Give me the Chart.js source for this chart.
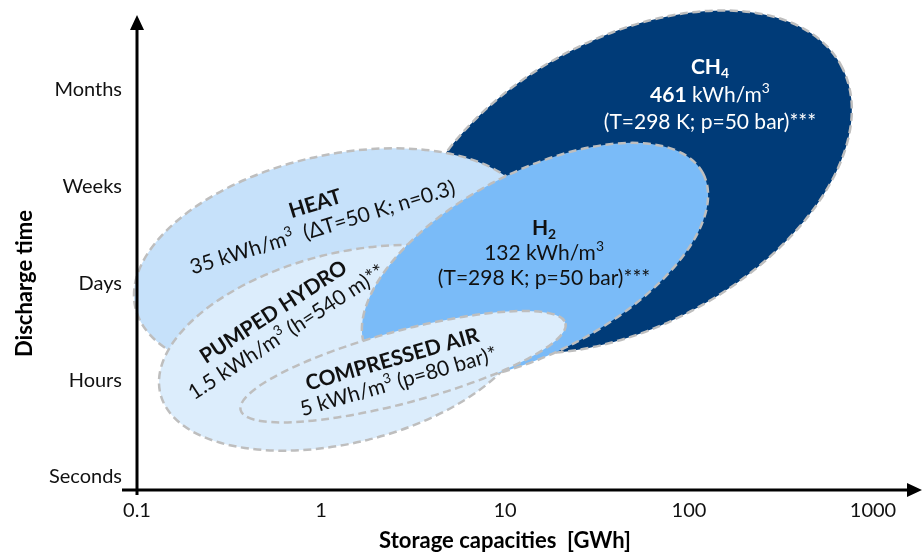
<!DOCTYPE html>
<html>
<head>
<meta charset="utf-8">
<script src="https://cdn.jsdelivr.net/npm/chart.js@4.4.1/dist/chart.umd.min.js"></script>
<style>
  html, body { margin: 0; padding: 0; background: #fff; }
  #wrap { width: 924px; height: 553px; position: relative; }
</style>
</head>
<body>
<div id="wrap"><canvas id="grafico"></canvas></div>
<script>
// eixos
const timeLabels = ['Seconds', 'Hours', 'Days', 'Weeks', 'Months'];
const capacityTicks = [0.1, 1, 10, 100, 1000];

// elipses, em ordem de desenho (de tras para frente)
const technologies = ['CH4', 'HEAT', 'PUMPED HYDRO', 'H2', 'COMPRESSED AIR'];
const capacityStart = [3.34, 0.098, 0.134, 1.78, 0.366];   // GWh, ponta esquerda do eixo maior
const capacityEnd   = [668, 14.5, 13.6, 119, 21.3];        // GWh, ponta direita
const timeStart     = [1.84, 1.75, 0.86, 1.30, 0.69];      // posicao no eixo de tempo
const timeEnd       = [4.26, 2.70, 1.81, 3.14, 1.59];
const spread        = [1.48, 1.10, 0.98, 0.93, 0.372];     // semi-eixo menor, em passos de tempo

// rotulos
const labelCapacity = [130, 0.975, 0.599, 16.3, 2.54];
const labelTime     = [3.95, 2.70, 1.60, 2.315, 1.10];
const labelLines = [
  [[{t: 'CH', b: 1}, {t: '4', b: 1, sub: 1}], [{t: '461', b: 1}, {t: ' kWh/m'}, {t: '3', sup: 1}], [{t: '(T=298 K; p=50 bar)***'}]],
  [[{t: 'HEAT', b: 1}], [{t: '35 kWh/m'}, {t: '3', sup: 1}, {t: '  (ΔT=50 K; n=0.3)'}]],
  [[{t: 'PUMPED HYDRO', b: 1}], [{t: '1.5 kWh/m'}, {t: '3', sup: 1}, {t: ' (h=540 m)**'}]],
  [[{t: 'H', b: 1}, {t: '2', b: 1, sub: 1}], [{t: '132 kWh/m'}, {t: '3', sup: 1}], [{t: '(T=298 K; p=50 bar)***'}]],
  [[{t: 'COMPRESSED AIR', b: 1}], [{t: '5 kWh/m'}, {t: '3', sup: 1}, {t: ' (p=80 bar)*'}]]
];

const fillColors = ['#003b78', '#c6e1fa', '#dcedfc', '#7abbf8', '#dcedfc'];
const textColors = ['#ffffff', '#111111', '#111111', '#111111', '#111111'];
const labelAngle = [0, -17, -33, 0, -16];
const labelGap   = [27.5, 25, 24, 25, 23];

const FONT = 'Lato, "Open Sans", sans-serif';

function fonte(r, size) {
  const s = (r.sub || r.sup) ? size * 0.66 : size;
  return (r.b ? 'bold ' : '') + s + 'px ' + FONT;
}

function desenharTexto(ctx, runs, x, y, size, color) {
  let total = 0;
  runs.forEach(r => {
    ctx.font = fonte(r, size);
    r.w = ctx.measureText(r.t).width;
    total += r.w;
  });
  let cur = x - total / 2;
  ctx.fillStyle = color;
  ctx.textAlign = 'left';
  ctx.textBaseline = 'middle';
  runs.forEach(r => {
    ctx.font = fonte(r, size);
    let dy = 0;
    if (r.sub) dy = size * 0.3;
    if (r.sup) dy = -size * 0.3;
    ctx.fillText(r.t, cur, y + dy);
    cur += r.w;
  });
}

const elipsesPlugin = {
  id: 'elipses',
  beforeDatasetsDraw(chart) {
    const ctx = chart.ctx;
    const xs = chart.scales.x, ys = chart.scales.y;
    const passo = ys.getPixelForValue(0) - ys.getPixelForValue(1);
    ctx.save();
    technologies.forEach((nome, i) => {
      const x1 = xs.getPixelForValue(capacityStart[i]), y1 = ys.getPixelForValue(timeStart[i]);
      const x2 = xs.getPixelForValue(capacityEnd[i]), y2 = ys.getPixelForValue(timeEnd[i]);
      const a = Math.hypot(x2 - x1, y2 - y1) / 2;
      const rot = Math.atan2(y2 - y1, x2 - x1);
      ctx.beginPath();
      ctx.ellipse((x1 + x2) / 2, (y1 + y2) / 2, a, spread[i] * passo, rot, 0, Math.PI * 2);
      ctx.fillStyle = fillColors[i];
      ctx.fill();
      ctx.setLineDash([8, 4.5]);
      ctx.lineWidth = 2.5;
      ctx.strokeStyle = '#bebebe';
      ctx.stroke();
    });
    ctx.restore();
  },
  afterDraw(chart) {
    const ctx = chart.ctx;
    const xs = chart.scales.x, ys = chart.scales.y;
    const area = chart.chartArea;
    ctx.save();

    // rotulos das elipses
    technologies.forEach((nome, i) => {
      const lines = labelLines[i];
      ctx.save();
      ctx.translate(xs.getPixelForValue(labelCapacity[i]), ys.getPixelForValue(labelTime[i]));
      ctx.rotate(labelAngle[i] * Math.PI / 180);
      lines.forEach((runs, k) => {
        desenharTexto(ctx, runs, 0, (k - (lines.length - 1) / 2) * labelGap[i], 21, textColors[i]);
      });
      ctx.restore();
    });

    // eixos com setas
    const x0 = xs.getPixelForValue(capacityTicks[0]);
    ctx.strokeStyle = '#000';
    ctx.fillStyle = '#000';
    ctx.lineWidth = 3;
    ctx.setLineDash([]);
    ctx.beginPath();
    ctx.moveTo(area.left, area.bottom);
    ctx.lineTo(area.right - 12, area.bottom);
    ctx.moveTo(x0, area.bottom + 5);
    ctx.lineTo(x0, area.top + 12);
    ctx.stroke();
    ctx.beginPath();
    ctx.moveTo(area.right, area.bottom);
    ctx.lineTo(area.right - 15, area.bottom - 7);
    ctx.lineTo(area.right - 15, area.bottom + 7);
    ctx.closePath();
    ctx.moveTo(x0, area.top);
    ctx.lineTo(x0 - 7, area.top + 15);
    ctx.lineTo(x0 + 7, area.top + 15);
    ctx.closePath();
    ctx.fill();

    // titulos dos eixos
    ctx.font = 'bold 22px ' + FONT;
    ctx.textAlign = 'center';
    ctx.textBaseline = 'middle';
    const xMeio = (x0 + xs.getPixelForValue(capacityTicks[capacityTicks.length - 1])) / 2;
    ctx.fillText('Storage capacities  [GWh]', xMeio, 541);
    const yMeio = (ys.getPixelForValue(0) + ys.getPixelForValue(timeLabels.length - 1)) / 2;
    ctx.translate(25, yMeio);
    ctx.rotate(-Math.PI / 2);
    ctx.fillText('Discharge time', 0, 0);
    ctx.restore();
  }
};

const ctx = document.getElementById('grafico').getContext('2d');
new Chart(ctx, {
  type: 'scatter',
  data: {
    datasets: technologies.map((nome, i) => ({
      label: nome,
      data: [{x: capacityStart[i], y: timeStart[i]}, {x: capacityEnd[i], y: timeEnd[i]}],
      pointRadius: 0,
      showLine: false
    }))
  },
  options: {
    responsive: true,
    maintainAspectRatio: false,
    animation: false,
    layout: { padding: { top: 15, right: 2, left: 0, bottom: 0 } },
    plugins: { legend: { display: false }, tooltip: { enabled: false } },
    scales: {
      x: {
        type: 'logarithmic',
        min: 0.08288,
        max: 1846,
        grid: { display: false, drawTicks: false },
        border: { display: false },
        afterFit: s => { s.height = 63; },
        afterBuildTicks: s => { s.ticks = capacityTicks.map(v => ({ value: v })); },
        ticks: {
          padding: 9,
          color: '#111111',
          font: { family: FONT, size: 20 },
          maxRotation: 0,
          autoSkip: false,
          callback: v => String(v)
        }
      },
      y: {
        type: 'linear',
        min: -0.1344,
        max: 4.7752,
        grid: { display: false, drawTicks: false },
        border: { display: false },
        afterFit: s => { s.width = 122; },
        afterBuildTicks: s => { s.ticks = timeLabels.map((t, i) => ({ value: i })); },
        ticks: {
          padding: 0,
          color: '#111111',
          font: { family: FONT, size: 20 },
          autoSkip: false,
          callback: v => timeLabels[v]
        }
      }
    }
  },
  plugins: [elipsesPlugin]
});
</script>
</body>
</html>
